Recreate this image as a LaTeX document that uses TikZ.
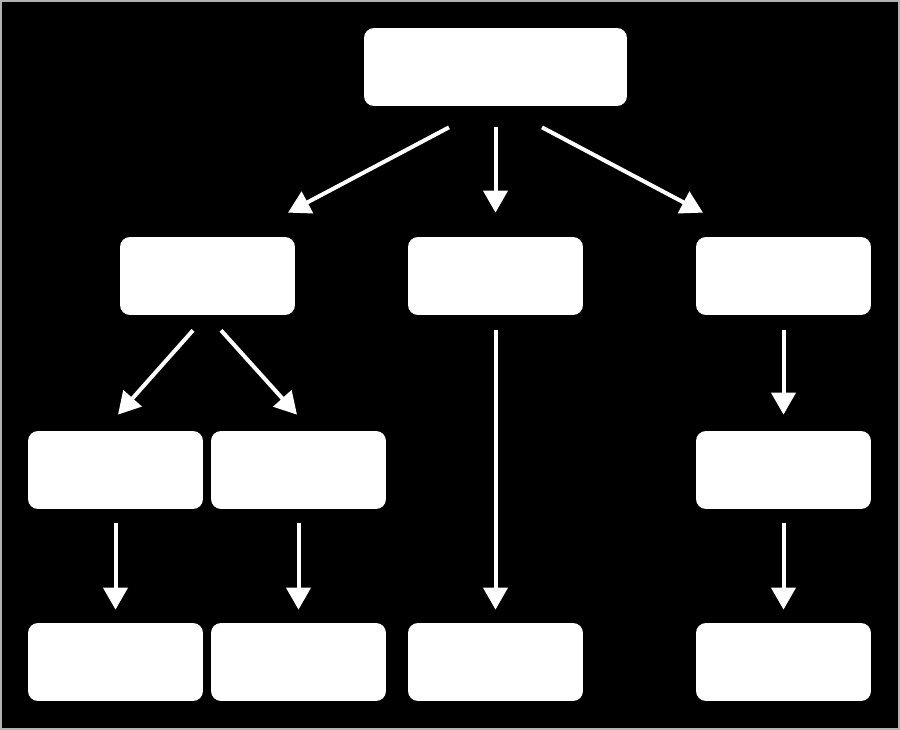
\documentclass[tikz,border=0pt]{standalone}
\usetikzlibrary{arrows.meta,calc}

\begin{document}
\begin{tikzpicture}[x=0.02cm, y=-0.02cm,
      box/.style={rectangle, rounded corners=0.2cm, fill=white, draw=none,
                  minimum width=3.5cm, minimum height=1.56cm, inner sep=0pt},
      arr/.style={draw=white, line width=0.08cm,
                  -{Triangle[width=0.48cm, length=0.44cm]}}]
    % frame
    \fill[black] (0,0) rectangle (900,730);
    \draw[gray!60, line width=0.04cm] (1,1) rectangle (899,729);
    % boxes
    \node[box, minimum width=5.26cm] (top) at (495.5,67) {};
    \node[box] (b1) at (207.5,276) {};
    \node[box] (b2) at (495.5,276) {};
    \node[box] (b3) at (783.5,276) {};
    \node[box] (c1) at (115.5,470) {};
    \node[box] (c2) at (298.5,470) {};
    \node[box] (c3) at (783.5,470) {};
    \node[box] (d1) at (115.5,662) {};
    \node[box] (d2) at (298.5,662) {};
    \node[box] (d3) at (495.5,662) {};
    \node[box] (d4) at (783.5,662) {};
    % arrows
    \foreach \s/\t/\sx/\sy/\tx/\ty in {top/b1/-46.5/21/80.5/-24, top/b2/0/21/0/-24,
        top/b3/46.5/21/-80.5/-24, b1/c1/-14.5/15/2.5/-16, b1/c2/13.5/15/-1.5/-16,
        b2/d3/0/15/0/-13, b3/c3/0/15/0/-16, c1/d1/0/14/0/-13, c2/d2/0/14/0/-13,
        c3/d4/0/14/0/-13}
      \draw[arr] ($(\s.south)+(\sx,\sy)$) -- ($(\t.north)+(\tx,\ty)$);
  \end{tikzpicture}
\end{document}
